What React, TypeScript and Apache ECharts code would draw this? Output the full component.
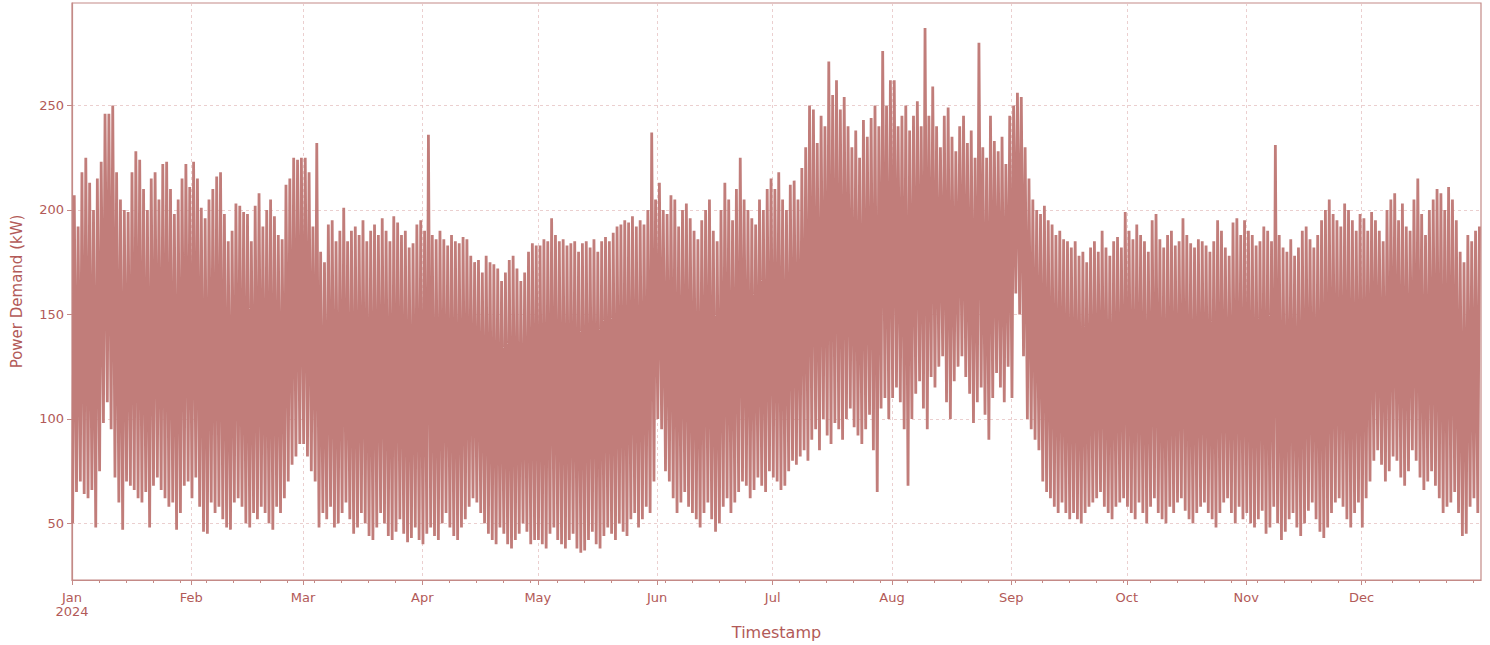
import React, { useEffect, useRef } from "react";
import * as echarts from "echarts";

// Daily peak (afternoon) and trough (night) power demand, kW, 2024
const janPeak = [207,192,218,225,213,200,215,223,246,246,250,218,205,200,199,218,228,224,210,200,215,218,205,222,223,210,198,205,215,222,211];
const janLow = [50,65,70,64,62,66,48,75,98,108,95,72,60,47,70,68,66,62,60,65,48,68,72,66,62,58,60,47,55,68,70];
const febPeak = [223,215,201,196,205,210,216,218,198,185,190,203,202,199,198,185,202,208,192,200,205,197,188,186,212,215,225,224,225];
const febLow = [62,72,58,46,45,60,55,58,52,48,47,60,62,58,50,48,55,52,58,55,50,47,58,55,62,70,78,82,88];
const marPeak = [225,218,192,232,180,175,193,195,185,190,201,185,190,192,188,195,185,190,193,188,196,190,185,197,194,188,190,182,184,193,195];
const marLow = [88,82,75,70,48,55,52,58,48,50,55,60,52,45,48,55,50,44,42,48,55,50,44,42,46,52,45,41,43,48,42];
const aprPeak = [190,236,188,186,190,186,183,188,185,184,187,186,178,175,176,170,178,175,174,172,166,170,176,178,172,166,170,180,184,183];
const aprLow = [40,45,48,44,42,50,55,48,44,42,48,52,58,62,60,55,50,45,42,40,48,45,40,38,42,45,50,46,40,42];
const mayPeak = [183,186,185,196,188,185,186,183,184,185,180,184,185,182,186,180,185,187,185,189,192,193,195,194,197,192,195,193,200,237,205];
const mayLow = [42,40,38,45,48,42,40,38,42,45,38,36,37,42,46,40,38,44,48,45,42,50,46,44,52,55,48,52,58,55,70];
const junPeak = [213,200,198,207,205,192,200,203,196,190,186,195,200,205,190,185,200,213,205,195,210,225,205,200,196,193,205,200,210,215];
const junLow = [100,95,75,70,62,55,60,65,58,55,52,48,55,60,52,46,50,58,62,55,60,65,70,68,62,66,72,68,65,75];
const julPeak = [210,218,205,200,212,214,205,220,230,250,248,232,245,240,271,255,262,248,254,240,230,238,225,243,235,244,250,240,276,250,262];
const julLow = [72,70,66,68,75,80,78,82,85,80,90,95,85,100,92,88,98,95,90,100,105,96,92,88,95,102,85,65,105,110,100];
const augPeak = [262,240,245,250,238,245,252,240,287,245,259,240,230,245,249,235,228,240,245,232,238,225,280,230,225,245,233,228,235,222,245];
const augLow = [110,115,108,95,68,100,112,118,105,95,120,115,125,130,108,100,118,125,130,120,112,98,108,115,102,90,110,122,115,108,125];
const sepPeak = [250,256,254,230,215,205,200,198,202,195,193,188,190,186,185,182,185,178,180,175,182,185,180,190,182,178,185,187,182,199];
const sepLow = [110,160,150,130,100,95,90,85,70,65,62,58,55,60,55,52,55,52,50,55,58,60,62,65,58,55,52,58,60,62];
const octPeak = [190,186,193,188,185,180,195,198,186,182,188,190,183,185,196,188,184,182,186,185,183,180,185,195,190,182,178,194,196,188,195];
const octLow = [58,55,52,60,55,50,58,62,55,52,50,58,55,60,62,56,52,50,55,58,60,55,52,48,55,60,62,55,50,58,52];
const novPeak = [190,188,183,185,192,190,185,231,188,182,180,186,178,182,190,192,186,182,188,195,200,205,198,195,192,203,200,195,190,198];
const novLow = [55,50,48,52,56,45,48,58,50,42,46,52,55,48,44,50,56,60,52,46,43,48,55,60,62,58,52,48,55,60];
const decPeak = [196,190,199,195,190,185,200,205,208,195,203,192,190,205,215,198,188,200,205,210,208,200,211,205,195,180,175,188,185,190,192];
const decLow = [48,62,70,80,85,78,70,75,82,80,72,68,75,85,80,72,66,70,75,68,62,55,58,60,65,55,44,45,58,62,55];

const peaks = [janPeak, febPeak, marPeak, aprPeak, mayPeak, junPeak, julPeak, augPeak, sepPeak, octPeak, novPeak, decPeak];
const lows = [janLow, febLow, marLow, aprLow, mayLow, junLow, julLow, augLow, sepLow, octLow, novLow, decLow];

const monthLabels = ["Jan\n2024", "Feb", "Mar", "Apr", "May", "Jun", "Jul", "Aug", "Sep", "Oct", "Nov", "Dec"];
const monthStartDays = [0, 31, 60, 91, 121, 152, 182, 213, 244, 274, 305, 335];
const yTicks = [50, 100, 150, 200, 250];

const TEXT = "#b25a58";
const LINE = "#c17d7a";
const SPINE = "#c48a87";
const GRID = "#e6c3c3";

export default function App() {
  const ref = useRef<HTMLDivElement>(null);
  useEffect(() => {
    if (!ref.current) return;
    const chart = echarts.init(ref.current, null, { renderer: "svg" });
    const data: [number, number][] = [];
    let day = 0;
    for (let m = 0; m < 12; m++) {
      for (let i = 0; i < peaks[m].length; i++) {
        data.push([day * 24 + 4, lows[m][i]]);
        data.push([day * 24 + 14, peaks[m][i]]);
        day++;
      }
    }
    const totalHours = day * 24;
    const monthHours = monthStartDays.map((d) => d * 24);
    const weekHours: number[] = [];
    for (let d = 7; d < day; d += 7) weekHours.push(d * 24);

    chart.setOption({
      animation: false,
      backgroundColor: "#ffffff",
      grid: {
        left: 72,
        right: 9,
        top: 3,
        bottom: 62,
        show: true,
        borderColor: SPINE,
        borderWidth: 1.2,
      },
      xAxis: [
        {
          type: "value",
          min: 0,
          max: totalHours,
          name: "Timestamp",
          nameLocation: "middle",
          nameGap: 44,
          nameTextStyle: { color: TEXT, fontSize: 16, fontFamily: "DejaVu Sans" },
          axisLine: { show: true, lineStyle: { color: SPINE, width: 1.2 } },
          axisTick: { show: true, customValues: monthHours, length: 5, lineStyle: { color: SPINE } },
          axisLabel: {
            customValues: monthHours,
            color: TEXT,
            fontSize: 13,
            fontFamily: "DejaVu Sans",
            lineHeight: 14,
            margin: 10,
            formatter: (v: number) => {
              const idx = monthHours.indexOf(Math.round(v));
              return idx >= 0 ? monthLabels[idx] : "";
            },
          },
          splitLine: { show: true, lineStyle: { color: GRID, type: [3, 3], width: 0.8 } },
        },
        {
          type: "value",
          min: 0,
          max: totalHours,
          position: "bottom",
          axisLine: { show: false },
          axisLabel: { show: false },
          splitLine: { show: false },
          axisTick: { show: true, customValues: weekHours, length: 3, lineStyle: { color: SPINE } },
        },
      ],
      yAxis: {
        type: "value",
        min: 22.9,
        max: 299,
        name: "Power Demand (kW)",
        nameLocation: "middle",
        nameGap: 48,
        nameTextStyle: { color: TEXT, fontSize: 15, fontFamily: "DejaVu Sans" },
        axisLine: { show: true, lineStyle: { color: SPINE, width: 1.2 } },
        axisTick: { show: true, customValues: yTicks, length: 5, lineStyle: { color: SPINE } },
        axisLabel: { customValues: yTicks, color: TEXT, fontSize: 13, fontFamily: "DejaVu Sans", margin: 8 },
        splitLine: { show: true, lineStyle: { color: GRID, type: [3, 3], width: 0.8 } },
      },
      series: [
        {
          type: "line",
          data,
          xAxisIndex: 0,
          showSymbol: false,
          symbol: "none",
          lineStyle: { color: LINE, width: 2.8 },
          z: 3,
        },
      ],
    });
    return () => chart.dispose();
  }, []);
  return (
    <div
      ref={ref}
      style={{ position: "fixed", left: 0, top: 0, width: 1490, height: 645 }}
    />
  );
}
